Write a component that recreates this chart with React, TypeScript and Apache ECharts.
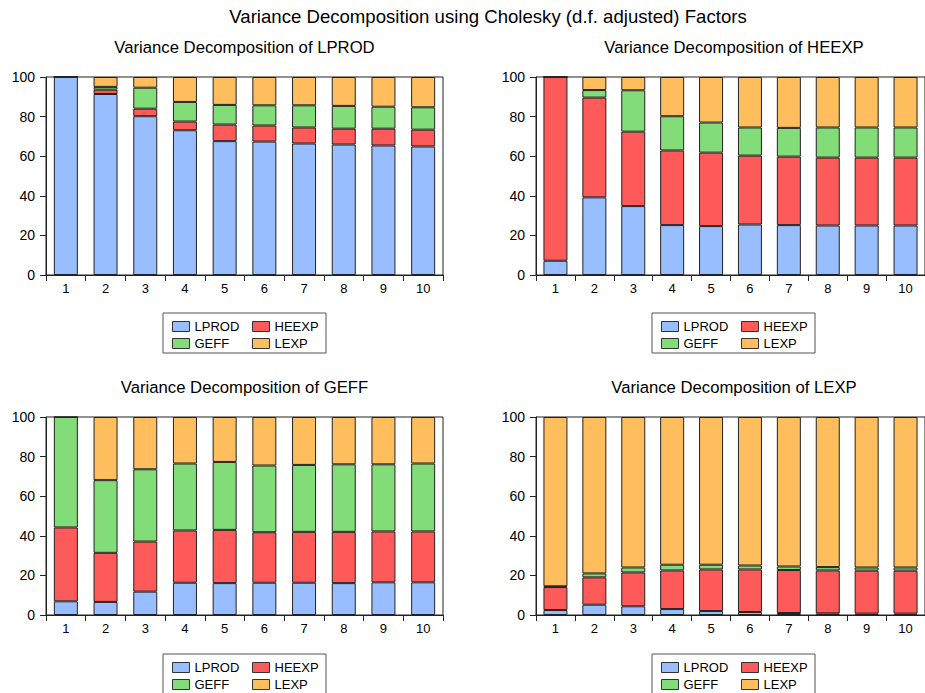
import React, { useEffect, useRef } from "react";
import * as echarts from "echarts";

const categories = ["1", "2", "3", "4", "5", "6", "7", "8", "9", "10"];
const seriesNames = ["LPROD", "HEEXP", "GEFF", "LEXP"];
const panelTitles = [
  "Variance Decomposition of LPROD",
  "Variance Decomposition of HEEXP",
  "Variance Decomposition of GEFF",
  "Variance Decomposition of LEXP",
];
const yTicks = [0, 20, 40, 60, 80, 100];

// Panel 1: Variance Decomposition of LPROD
const lprodLPROD = [100, 91.4, 80.2, 73.1, 67.6, 67.4, 66.4, 65.9, 65.4, 64.9];
const lprodHEEXP = [0, 2.2, 3.8, 4.4, 8.4, 8.1, 8.1, 8.0, 8.5, 8.5];
const lprodGEFF = [0, 1.4, 10.6, 9.9, 9.9, 10.2, 11.2, 11.5, 11.1, 11.3];
const lprodLEXP = [0, 5.0, 5.4, 12.6, 14.1, 14.3, 14.3, 14.6, 15.0, 15.3];

// Panel 2: Variance Decomposition of HEEXP
const heexpLPROD = [7.2, 39.2, 34.8, 25.2, 24.7, 25.5, 25.2, 25.0, 25.0, 25.0];
const heexpHEEXP = [92.8, 50.4, 37.6, 37.7, 37.1, 34.8, 34.6, 34.3, 34.3, 34.3];
const heexpGEFF = [0, 3.8, 20.9, 17.3, 15.2, 14.2, 14.5, 15.2, 15.2, 15.2];
const heexpLEXP = [0, 6.6, 6.7, 19.8, 23.0, 25.5, 25.7, 25.5, 25.5, 25.5];

// Panel 3: Variance Decomposition of GEFF
const geffLPROD = [6.9, 6.6, 11.8, 16.3, 16.1, 16.3, 16.3, 16.1, 16.5, 16.5];
const geffHEEXP = [37.3, 24.8, 25.3, 26.4, 26.9, 25.5, 25.7, 25.9, 25.7, 25.7];
const geffGEFF = [55.8, 36.7, 36.5, 33.8, 34.3, 33.7, 33.8, 34.1, 33.9, 34.3];
const geffLEXP = [0, 31.9, 26.4, 23.5, 22.7, 24.5, 24.2, 23.9, 23.9, 23.5];

// Panel 4: Variance Decomposition of LEXP
const lexpLPROD = [2.5, 5.2, 4.4, 3.0, 2.0, 1.5, 1.0, 0.8, 0.7, 0.7];
const lexpHEEXP = [11.6, 13.8, 17.1, 19.5, 21.0, 21.5, 21.7, 21.7, 21.7, 21.7];
const lexpGEFF = [0.4, 2.0, 2.5, 2.9, 2.4, 2.0, 1.8, 1.7, 1.6, 1.6];
const lexpLEXP = [85.5, 79.0, 76.0, 74.6, 74.6, 75.0, 75.5, 75.8, 76.0, 76.0];

const panelData = [
  [lprodLPROD, lprodHEEXP, lprodGEFF, lprodLEXP],
  [heexpLPROD, heexpHEEXP, heexpGEFF, heexpLEXP],
  [geffLPROD, geffHEEXP, geffGEFF, geffLEXP],
  [lexpLPROD, lexpHEEXP, lexpGEFF, lexpLEXP],
];

const colors = ["#98BEFF", "#FF5A5A", "#82DC78", "#FFBE5E"];
const FONT = "Liberation Sans, Arial, sans-serif";

const grids = [
  { left: 46, top: 77, width: 397, height: 198 },
  { left: 536, top: 77, width: 396, height: 198 },
  { left: 46, top: 417, width: 397, height: 198 },
  { left: 536, top: 417, width: 396, height: 198 },
];
const legendBoxes = [
  { x: 163, y: 313 },
  { x: 652, y: 313 },
  { x: 163, y: 654 },
  { x: 652, y: 654 },
];

export default function App() {
  const ref = useRef<HTMLDivElement>(null);
  useEffect(() => {
    if (!ref.current) return;
    const chart = echarts.init(ref.current, undefined, { renderer: "svg" });

    const titles: any[] = [
      {
        text: "Variance Decomposition using Cholesky (d.f. adjusted) Factors",
        left: 483,
        top: 2,
        textAlign: "center",
        textStyle: { fontFamily: FONT, fontSize: 18.6, fontWeight: "normal", color: "#000" },
      },
    ];
    grids.forEach((g, i) => {
      titles.push({
        text: panelTitles[i],
        left: g.left + g.width / 2 - 5,
        top: g.top - 43,
        textAlign: "center",
        textStyle: { fontFamily: FONT, fontSize: 16.7, fontWeight: "normal", color: "#000" },
      });
    });

    const series: any[] = [];
    panelData.forEach((arrs, p) => {
      arrs.forEach((arr, s) => {
        series.push({
          type: "bar",
          name: seriesNames[s],
          stack: "panel" + p,
          xAxisIndex: p,
          yAxisIndex: p,
          data: arr,
          barWidth: 24,
          itemStyle: { color: colors[s], borderColor: "#222", borderWidth: 1 },
          emphasis: { disabled: true },
        });
      });
    });

    const legends: any[] = [];
    const graphics: any[] = [];
    legendBoxes.forEach((b) => {
      graphics.push({
        type: "rect",
        shape: { x: b.x, y: b.y, width: 163, height: 40 },
        style: { fill: "#fff", stroke: "#555", lineWidth: 1 },
        z: 0,
      });
      [["LPROD", "GEFF"], ["HEEXP", "LEXP"]].forEach((col, c) => {
        legends.push({
          data: col,
          orient: "vertical",
          left: b.x + 9 + c * 80,
          top: b.y + 7,
          padding: 0,
          itemWidth: 17,
          itemHeight: 10,
          itemGap: 4,
          icon: "rect",
          selectedMode: false,
          z: 10,
          itemStyle: { borderColor: "#333", borderWidth: 1 },
          textStyle: { fontFamily: FONT, fontSize: 13, color: "#000", lineHeight: 12, padding: [0, 0, 0, 0] },
        });
      });
    });

    chart.setOption({
      animation: false,
      backgroundColor: "#fff",
      title: titles,
      grid: grids.map((g) => ({
        ...g,
        show: true,
        borderColor: "#222",
        borderWidth: 1,
        backgroundColor: "transparent",
      })),
      xAxis: grids.map((_, i) => ({
        type: "category",
        gridIndex: i,
        data: categories,
        boundaryGap: true,
        axisLine: { show: true, lineStyle: { color: "#222", width: 1 } },
        axisTick: { show: true, inside: false, length: 6, alignWithLabel: false, lineStyle: { color: "#222" } },
        axisLabel: { fontFamily: FONT, fontSize: 13, color: "#000", margin: 7 },
        splitLine: { show: false },
      })),
      yAxis: grids.map((_, i) => ({
        type: "value",
        gridIndex: i,
        min: yTicks[0],
        max: yTicks[yTicks.length - 1],
        interval: 20,
        axisLine: { show: true, lineStyle: { color: "#222", width: 1 } },
        axisTick: { show: true, inside: false, length: 6, lineStyle: { color: "#222" } },
        axisLabel: { fontFamily: FONT, fontSize: 14, color: "#000", margin: 11, padding: [0, 0, 7, 0] },
        splitLine: { show: false },
      })),
      legend: legends,
      graphic: graphics,
      series,
    });
    return () => chart.dispose();
  }, []);
  return (
    <div
      ref={ref}
      style={{ position: "fixed", left: 0, top: 0, width: 925, height: 693, background: "#fff" }}
    />
  );
}
